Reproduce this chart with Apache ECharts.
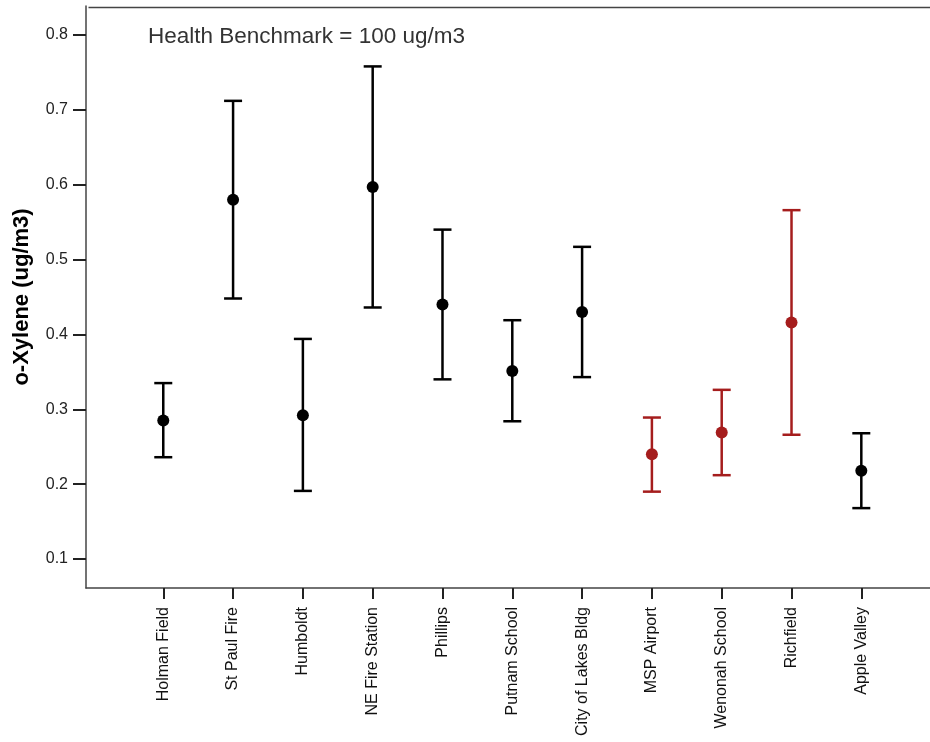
<!DOCTYPE html>
<html>
<head>
<meta charset="utf-8">
<script src="https://cdn.jsdelivr.net/npm/echarts@6/dist/echarts.min.js"></script>
<style>
  html, body { margin: 0; padding: 0; background: #fff; }
  #chart { width: 930px; height: 742px; }
</style>
</head>
<body>
<div id="chart"></div>
<script>
// Monitoring sites along the x axis
const sites = ['Holman Field', 'St Paul Fire', 'Humboldt', 'NE Fire Station', 'Phillips',
  'Putnam School', 'City of Lakes Bldg', 'MSP Airport', 'Wenonah School', 'Richfield', 'Apple Valley'];
// Mean o-Xylene concentration (ug/m3) and confidence bounds per site
const means = [0.285, 0.580, 0.292, 0.597, 0.440, 0.351, 0.430, 0.240, 0.269, 0.416, 0.218];
const lower = [0.236, 0.448, 0.191, 0.436, 0.340, 0.284, 0.343, 0.190, 0.212, 0.266, 0.168];
const upper = [0.335, 0.712, 0.394, 0.758, 0.540, 0.419, 0.517, 0.289, 0.326, 0.566, 0.268];
// Airport-area sites drawn in red
const airportSites = [false, false, false, false, false, false, false, true, true, true, false];
const yTicks = [0.1, 0.2, 0.3, 0.4, 0.5, 0.6, 0.7, 0.8];
const xTicks = sites.map((_, i) => i);

const BLACK = '#000000';
const RED = '#a51d1d';
const FONT = 'Liberation Sans, Arial, sans-serif';

const pointData = means.map((v, i) => ({
  value: [i, v],
  itemStyle: { color: airportSites[i] ? RED : BLACK, opacity: 1 }
}));
const barData = means.map((v, i) => [i, lower[i], upper[i]]);

const chart = echarts.init(document.getElementById('chart'), null, { renderer: 'canvas' });
chart.setOption({
  backgroundColor: '#ffffff',
  animation: false,
  title: {
    text: 'Health Benchmark = 100 ug/m3',
    left: 143, top: 20,
    textStyle: { fontFamily: FONT, fontSize: 22.5, fontWeight: 'normal', color: '#333' }
  },
  grid: { left: 86, right: 0, top: 6, bottom: 154, containLabel: false },
  xAxis: {
    type: 'value',
    min: -1.107, max: 10.984,
    axisLine: { show: true, onZero: false, lineStyle: { color: '#444', width: 1.5 } },
    axisTick: { show: true, length: 11, lineStyle: { color: '#222', width: 2 }, customValues: xTicks },
    axisLabel: {
      customValues: xTicks,
      rotate: 90,
      margin: 19,
      fontFamily: FONT, fontSize: 16, color: '#111',
      formatter: v => sites[Math.round(v)] || ''
    },
    splitLine: { show: false }
  },
  yAxis: {
    type: 'value',
    min: 0.0613, max: 0.8387,
    name: 'o-Xylene (ug/m3)',
    nameLocation: 'middle',
    nameGap: 53,
    nameTextStyle: { fontFamily: FONT, fontSize: 22, fontWeight: 'bold', color: '#000' },
    axisLine: { show: true, onZero: false, lineStyle: { color: '#444', width: 1.5 } },
    axisTick: { show: true, length: 13, lineStyle: { color: '#222', width: 2 }, customValues: yTicks },
    axisLabel: {
      customValues: yTicks,
      margin: 18,
      fontFamily: FONT, fontSize: 16, color: '#222',
      formatter: v => v.toFixed(1)
    },
    splitLine: { show: false }
  },
  graphic: [{
    // top frame edge
    type: 'line', left: 86, top: 5,
    shape: { x1: 0, y1: 0, x2: 844, y2: 0 },
    style: { stroke: '#444', lineWidth: 1.5 }
  }],
  series: [
    {
      type: 'custom',
      name: 'range',
      data: barData,
      encode: { x: 0, y: [1, 2] },
      renderItem: function (params, api) {
        const i = api.value(0);
        const lo = api.coord([i, api.value(1)]);
        const hi = api.coord([i, api.value(2)]);
        const half = 9;
        const color = airportSites[params.dataIndex] ? RED : BLACK;
        const style = { stroke: color, lineWidth: 2.5, fill: null };
        return {
          type: 'group',
          children: [
            { type: 'line', shape: { x1: lo[0], y1: lo[1], x2: hi[0], y2: hi[1] }, style },
            { type: 'line', shape: { x1: hi[0] - half, y1: hi[1], x2: hi[0] + half, y2: hi[1] }, style },
            { type: 'line', shape: { x1: lo[0] - half, y1: lo[1], x2: lo[0] + half, y2: lo[1] }, style }
          ]
        };
      },
      z: 2
    },
    {
      type: 'scatter',
      name: 'mean',
      data: pointData,
      symbol: 'circle',
      symbolSize: 12,
      z: 3
    }
  ]
});
</script>
</body>
</html>
